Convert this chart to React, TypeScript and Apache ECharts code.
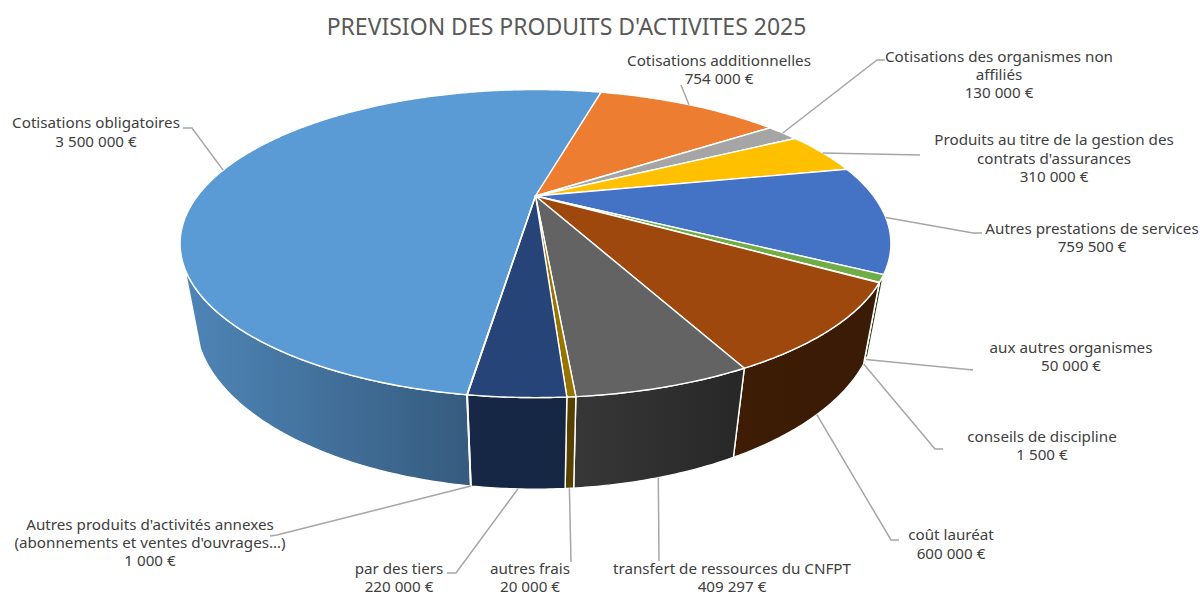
import React, { useEffect, useRef } from "react";
import * as echarts from "echarts";

const title = "PREVISION DES PRODUITS D'ACTIVITES 2025";
const categories = [
  "Cotisations obligatoires",
  "Cotisations additionnelles",
  "Cotisations des organismes non\naffiliés",
  "Produits au titre de la gestion des\ncontrats d'assurances",
  "Autres prestations de services",
  "aux autres organismes",
  "conseils de discipline",
  "coût lauréat",
  "transfert de ressources du CNFPT",
  "autres frais",
  "par des tiers",
  "Autres produits d'activités annexes\n(abonnements et ventes d'ouvrages…)",
];
const values = [3500000, 754000, 130000, 310000, 759500, 50000, 1500, 600000, 409297, 20000, 220000, 1000];
const colors = ["#5B9BD5", "#ED7D31", "#A5A5A5", "#FFC000", "#4472C4", "#70AD47", "#255E91", "#9E480E", "#636363", "#997300", "#264478", "#43682B"];

// label layout: centre x, centre y of the text block
const labelCentres = [
  [96, 131.5], [719, 69], [999, 74], [1054, 157.5], [1092, 237], [1071, 356],
  [1042, 445], [951, 543.5], [732, 576.8], [530, 576.8], [399, 577], [150, 542],
];
// leader line elbows after the anchor on the rim
const leaderElbows: number[][][] = [
  [[192, 128], [183, 128]],
  [[681, 85]],
  [[877, 60], [885, 60]],
  [[920, 155]],
  [[973, 233], [982, 233]],
  [[973, 370]],
  [[935, 449], [943, 449]],
  [[891, 540], [899, 540]],
  [[659, 561]],
  [[571, 562]],
  [[456, 573], [447, 573]],
  [[277, 535], [270, 536]],
];

// projection of the tilted disc
const CX = 535.5, CY = 196, A = 338, B = 139.3, K = 0.309, DROP = 75, M = 0.04;
const START_DEG = 188.1;
const VISIBLE_FROM = 116.6, VISIBLE_TO = 243.4;

const total = values.reduce((s, v) => s + v, 0);
function sliceRange(i: number): [number, number] {
  let before = 0;
  for (let k = 0; k < i; k++) before += values[k];
  return [START_DEG + (before / total) * 360, START_DEG + ((before + values[i]) / total) * 360];
}
function project(deg: number, bottom: boolean): number[] {
  const t = (deg * Math.PI) / 180;
  const u = Math.sin(t), v = -Math.cos(t);
  const w = 1 - K * v + (bottom ? M : 0);
  return [CX + (A * u) / w, CY + (B * v + (bottom ? DROP : 0)) / w];
}
function arc(a: number, b: number, bottom: boolean): number[][] {
  const n = Math.max(2, Math.ceil(Math.abs(b - a) / 0.5));
  const out: number[][] = [];
  for (let i = 0; i <= n; i++) out.push(project(a + ((b - a) * i) / n, bottom));
  return out;
}
function shadeFactor(x: number): number {
  if (x <= 200) return 0.86;
  if (x <= 470) return 0.86 - ((x - 200) / 270) * 0.27;
  if (x <= 575) return 0.59 - ((x - 470) / 105) * 0.03;
  if (x <= 600) return 0.56 - ((x - 575) / 25) * 0.14;
  return 0.42 - (Math.min(x - 600, 270) / 270) * 0.05;
}
function shade(hex: string, f: number): string {
  const n = parseInt(hex.slice(1), 16);
  const c = [(n >> 16) & 255, (n >> 8) & 255, n & 255].map((x) => Math.round(x * f));
  return `rgb(${c[0]},${c[1]},${c[2]})`;
}
const fmt = (v: number) => String(v).replace(/\B(?=(\d{3})+$)/g, " ") + " €";
const seriesData = values.map((v) => [v]);

function renderWall(params: any) {
  const i = params.dataIndex;
  const [s0, s1] = sliceRange(i);
  const children: any[] = [];
  // slices are measured on an unwrapped angle, so the front of the disc occurs once per turn
  for (const off of [0, 360]) {
    const a = Math.max(s0, VISIBLE_FROM + off);
    const b = Math.min(s1, VISIBLE_TO + off);
    if (!(b > a)) continue;
    const pts = arc(a, b, false).concat(arc(a, b, true).reverse());
    const xs = pts.map((p) => p[0]);
    const x0 = Math.min(...xs), x1 = Math.max(...xs) + 0.01;
    children.push({
      type: "polygon",
      shape: { points: pts },
      style: {
        fill: {
          type: "linear", x: x0, y: 0, x2: x1, y2: 0, global: true,
          colorStops: [
            { offset: 0, color: shade(colors[i], shadeFactor(x0)) },
            { offset: 1, color: shade(colors[i], shadeFactor(x1)) },
          ],
        },
        stroke: "#ffffff",
        lineWidth: 1.4,
        lineJoin: "round",
      },
    });
  }
  return { type: "group", children };
}
function renderTop(params: any) {
  const i = params.dataIndex;
  const [s0, s1] = sliceRange(i);
  const pts = [[CX, CY]].concat(arc(s0, s1, false));
  return {
    type: "polygon",
    shape: { points: pts },
    style: { fill: colors[i], stroke: "#ffffff", lineWidth: 1.4, lineJoin: "round" },
  };
}
function renderLabel(params: any, api: any) {
  const i = params.dataIndex;
  const [s0, s1] = sliceRange(i);
  const mid = (s0 + s1) / 2;
  const v = -Math.cos((mid * Math.PI) / 180);
  // leaders start on the top rim at the back, on the bottom rim at the front
  const anchor = project(mid, v > 0.4);
  return {
    type: "group",
    children: [
      {
        type: "polyline",
        shape: { points: [anchor].concat(leaderElbows[i]) },
        style: { fill: "none", stroke: "#A6A6A6", lineWidth: 1.5 },
      },
      {
        type: "text",
        x: labelCentres[i][0],
        y: labelCentres[i][1],
        style: {
          text: categories[i] + "\n" + fmt(api.value(0)),
          fill: "#404040",
          font: '15.2px "Noto Sans"',
          lineHeight: 18.4,
          align: "center",
          verticalAlign: "middle",
        },
      },
    ],
  };
}

export default function App() {
  const ref = useRef<HTMLDivElement>(null);
  useEffect(() => {
    document.body.style.margin = "0";
    const chart = echarts.init(ref.current!, undefined, { renderer: "svg" });
    chart.setOption({
      animation: false,
      backgroundColor: "#ffffff",
      title: {
        text: title,
        left: 561.5,
        top: 9.5,
        textAlign: "center",
        textStyle: { color: "#595959", fontFamily: "Noto Sans", fontSize: 23, fontWeight: "normal" },
      },
      series: [
        { type: "custom", coordinateSystem: "none", data: seriesData, renderItem: renderWall, z: 1, silent: true },
        { type: "custom", coordinateSystem: "none", data: seriesData, renderItem: renderTop, z: 2, silent: true },
        { type: "custom", coordinateSystem: "none", data: seriesData, renderItem: renderLabel, z: 3, silent: true },
      ],
    });
    return () => chart.dispose();
  }, []);
  return <div ref={ref} style={{ width: 1203, height: 595 }} />;
}
